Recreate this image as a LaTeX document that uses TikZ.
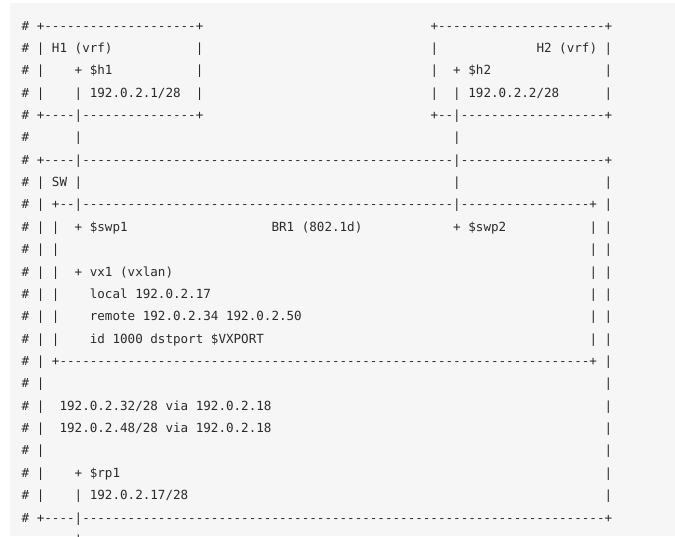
\documentclass[tikz,border=0pt]{standalone}
\usepackage{fontspec}
\setmonofont{DejaVu Sans Mono}
\definecolor{ink}{HTML}{2A2A2A}
\definecolor{bg}{HTML}{F6F6F6}
\newlength\cw
\setlength\cw{7.5708pt}
\newcount\ddn
\newcommand\dd[1]{\ddn=#1\relax\loop\ifnum\ddn>0 -\advance\ddn by -1 \repeat}
\newcommand\at[2]{\rlap{\hskip#1\cw\relax#2}}
\newcommand\asciifont{\ttfamily\fontsize{12.575pt}{15pt}\selectfont}
\newcommand\row[2]{\node[txt] (l#1) at (21.2,{-30.1-22.36*#1}) {#2\hskip78\cw};}
\begin{document}
\begin{tikzpicture}[x=1pt,y=1pt,
  txt/.style={anchor=base west, inner sep=0pt, outer sep=0pt, text=ink, font=\asciifont}]
\useasboundingbox (0,0) rectangle (675,-536);
\fill[bg] (9.5,-3) rectangle (675,-536);
\row{0}{\at{0}{\#}\at{2}{+\dd{20}+}\at{54}{+\dd{22}+}}
\row{1}{\at{0}{\#}\at{2}{|}\at{4}{H1 (vrf)}\at{23}{|}\at{54}{|}\at{68}{H2 (vrf)}\at{77}{|}}
\row{2}{\at{0}{\#}\at{2}{|}\at{7}{+ \$h1}\at{23}{|}\at{54}{|}\at{57}{+ \$h2}\at{77}{|}}
\row{3}{\at{0}{\#}\at{2}{|}\at{7}{| 192.0.2.1/28}\at{23}{|}\at{54}{|}\at{57}{| 192.0.2.2/28}\at{77}{|}}
\row{4}{\at{0}{\#}\at{2}{+\dd{4}|\dd{15}+}\at{54}{+\dd{2}|\dd{19}+}}
\row{5}{\at{0}{\#}\at{7}{|}\at{57}{|}}
\row{6}{\at{0}{\#}\at{2}{+\dd{4}|\dd{49}|\dd{19}+}}
\row{7}{\at{0}{\#}\at{2}{| SW |}\at{57}{|}\at{77}{|}}
\row{8}{\at{0}{\#}\at{2}{| +\dd{2}|\dd{49}|\dd{17}+ |}}
\row{9}{\at{0}{\#}\at{2}{| |}\at{7}{+ \$swp1}\at{33}{BR1 (802.1d)}\at{57}{+ \$swp2}\at{75}{| |}}
\row{10}{\at{0}{\#}\at{2}{| |}\at{75}{| |}}
\row{11}{\at{0}{\#}\at{2}{| |}\at{7}{+ vx1 (vxlan)}\at{75}{| |}}
\row{12}{\at{0}{\#}\at{2}{| |}\at{9}{local 192.0.2.17}\at{75}{| |}}
\row{13}{\at{0}{\#}\at{2}{| |}\at{9}{remote 192.0.2.34 192.0.2.50}\at{75}{| |}}
\row{14}{\at{0}{\#}\at{2}{| |}\at{9}{id 1000 dstport \$VXPORT}\at{75}{| |}}
\row{15}{\at{0}{\#}\at{2}{| +\dd{70}+ |}}
\row{16}{\at{0}{\#}\at{2}{|}\at{77}{|}}
\row{17}{\at{0}{\#}\at{2}{|}\at{5}{192.0.2.32/28 via 192.0.2.18}\at{77}{|}}
\row{18}{\at{0}{\#}\at{2}{|}\at{5}{192.0.2.48/28 via 192.0.2.18}\at{77}{|}}
\row{19}{\at{0}{\#}\at{2}{|}\at{77}{|}}
\row{20}{\at{0}{\#}\at{2}{|}\at{7}{+ \$rp1}\at{77}{|}}
\row{21}{\at{0}{\#}\at{2}{|}\at{7}{| 192.0.2.17/28}\at{77}{|}}
\row{22}{\at{0}{\#}\at{2}{+\dd{4}|\dd{69}+}}
\row{23}{\at{7}{|}}
\end{tikzpicture}
\end{document}
